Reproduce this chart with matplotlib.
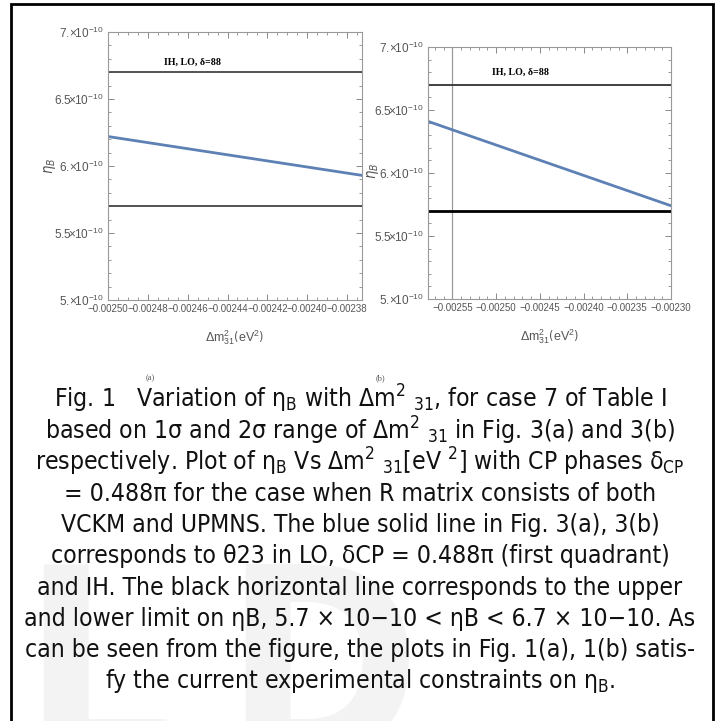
import matplotlib
matplotlib.use('Agg')
from matplotlib import pyplot as plt
from matplotlib.patches import Rectangle
from matplotlib.ticker import MultipleLocator
from matplotlib import font_manager
import numpy as np

# 数据
dm31_a = [-0.002500, -0.0023725]
eta_a = [6.22e-10, 5.93e-10]
dm31_b = [-0.002578, -0.002300]
eta_b = [6.41e-10, 5.74e-10]
eta_upper = 6.7e-10
eta_lower = 5.7e-10
dm31_mark_b = -0.00255

yticks = [5.0e-10, 5.5e-10, 6.0e-10, 6.5e-10, 7.0e-10]
ytick_labels = [r'$5.\!\!\times\!\!10^{-10}$', r'$5.5\!\!\times\!\!10^{-10}$', r'$6.\!\!\times\!\!10^{-10}$',
                r'$6.5\!\!\times\!\!10^{-10}$', r'$7.\!\!\times\!\!10^{-10}$']
xticks_a = [-0.00250, -0.00248, -0.00246, -0.00244, -0.00242, -0.00240, -0.00238]
xticks_b = [-0.00255, -0.00250, -0.00245, -0.00240, -0.00235, -0.00230]

caption = [
    r'Fig. 1   Variation of η$_{B}$ with Δm$^{2}$ $_{31}$, for case 7 of Table I',
    r'based on 1σ and 2σ range of Δm$^{2}$ $_{31}$ in Fig. 3(a) and 3(b)',
    r'respectively. Plot of η$_{B}$ Vs Δm$^{2}$ $_{31}$[eV $^{2}$] with CP phases δ$_{CP}$',
    r'= 0.488π for the case when R matrix consists of both',
    r'VCKM and UPMNS. The blue solid line in Fig. 3(a), 3(b)',
    r'corresponds to θ23 in LO, δCP = 0.488π (first quadrant)',
    r'and IH. The black horizontal line corresponds to the upper',
    r'and lower limit on ηB, 5.7 × 10−10 < ηB < 6.7 × 10−10. As',
    r'can be seen from the figure, the plots in Fig. 1(a), 1(b) satis-',
    r'fy the current experimental constraints on η$_{B}$.',
]

# 图注字体：有窄体就用窄体
cond_file = font_manager.findfont(font_manager.FontProperties(family='DejaVu Sans', stretch='condensed'))
has_cond = 'Condensed' in cond_file
cap_size = 17.7 if has_cond else 15.5

plt.rcParams['font.family'] = ['DejaVu Sans']
plt.rcParams['font.stretch'] = 'condensed'
plt.rcParams['mathtext.default'] = 'regular'
tickfont = ['Liberation Sans', 'DejaVu Sans']

fig = plt.figure(figsize=(7.2, 7.21), dpi=100)

# 水印
fig.text(0.03, -0.05, 'L', fontsize=190, color='#f3f3f3', weight='bold', zorder=0)
fig.text(0.31, -0.05, 'D', fontsize=190, color='#f3f3f3', weight='bold', zorder=0)

# 外框
fig.add_artist(Rectangle((11/720, -0.01), 702/720, 1 - 4/721 + 0.01, transform=fig.transFigure,
                         fill=False, edgecolor='black', linewidth=2))

ax_a = fig.add_axes([108/720, 1 - 300/721, 254/720, 268/721])
ax_b = fig.add_axes([428/720, 1 - 299/721, 243/720, 252/721])

gray = '#555555'

# 左图 (a)
ax_a.plot(dm31_a, [eta_upper, eta_upper], color='#444444', lw=1.3)
ax_a.plot(dm31_a, [eta_lower, eta_lower], color='#444444', lw=1.3)
ax_a.plot(dm31_a, eta_a, color='#5E81B5', lw=2)
ax_a.set_xlim(dm31_a[0], dm31_a[1])
ax_a.set_xticks(xticks_a)
ax_a.set_xticklabels(['−%.5f' % abs(v) for v in xticks_a])
ax_a.xaxis.set_minor_locator(MultipleLocator(0.000005))
ax_a.text(0.331, 0.888, 'IH, LO, δ=88', transform=ax_a.transAxes, ha='center', va='center',
          fontsize=7.2, weight='bold', family='Liberation Serif')

# 右图 (b)
ax_b.axvline(dm31_mark_b, color='#999999', lw=0.9)
ax_b.plot(dm31_b, [eta_upper, eta_upper], color='#333333', lw=1.3)
ax_b.plot(dm31_b, [eta_lower, eta_lower], color='black', lw=2)
ax_b.plot(dm31_b, eta_b, color='#5E81B5', lw=2)
ax_b.set_xlim(dm31_b[0], dm31_b[1])
ax_b.set_xticks(xticks_b)
ax_b.set_xticklabels(['−%.5f' % abs(v) for v in xticks_b])
ax_b.xaxis.set_minor_locator(MultipleLocator(0.00001))
ax_b.text(0.379, 0.90, 'IH, LO, δ=88', transform=ax_b.transAxes, ha='center', va='center',
          fontsize=7.2, weight='bold', family='Liberation Serif')

for ax in [ax_a, ax_b]:
    ax.set_ylim(5e-10, 7e-10)
    ax.set_yticks(yticks)
    ax.set_yticklabels(ytick_labels)
    ax.yaxis.set_minor_locator(MultipleLocator(0.1e-10))
    ax.tick_params(which='both', direction='in', top=True, right=True, color='#888888',
                   labelcolor=gray, pad=3)
    ax.tick_params(which='major', length=4.5, width=0.7)
    ax.tick_params(which='minor', length=2.5, width=0.6)
    ax.tick_params(axis='both', which='both', labeltop=False, labelright=False)
    for lab in ax.get_xticklabels():
        lab.set_fontfamily(tickfont)
        lab.set_fontsize(7)
    for lab in ax.get_yticklabels():
        lab.set_fontfamily(tickfont)
        lab.set_fontsize(8.5)
    for s in ax.spines.values():
        s.set_color('#999999')
        s.set_linewidth(0.8)
    ax.set_xlabel(r'$\Delta m^{2}_{31}\left(eV^{2}\right)$', fontsize=9, color=gray, labelpad=10,
                  family=tickfont)

ax_a.set_ylabel(r'$\mathit{\eta_{B}}$', fontsize=10.5, color=gray)
ax_a.yaxis.set_label_coords(-0.197, 0.5)
ax_b.set_ylabel(r'$\mathit{\eta_{B}}$', fontsize=10.5, color=gray)
ax_b.yaxis.set_label_coords(-0.193, 0.51)

# 子图编号
fig.text(150/720, 1 - 378/721, '(a)', fontsize=6, color=gray, ha='center', va='center', family='Liberation Serif')
fig.text(380/720, 1 - 378/721, '(b)', fontsize=6, color=gray, ha='center', va='center', family='Liberation Serif')

# 图注
for i, line in enumerate(caption):
    fig.text(0.5, 1 - (408 + 31.1 * i) / 721, line, ha='center', va='baseline', fontsize=cap_size,
             color='#111111')

plt.savefig('out.png', dpi=100)
